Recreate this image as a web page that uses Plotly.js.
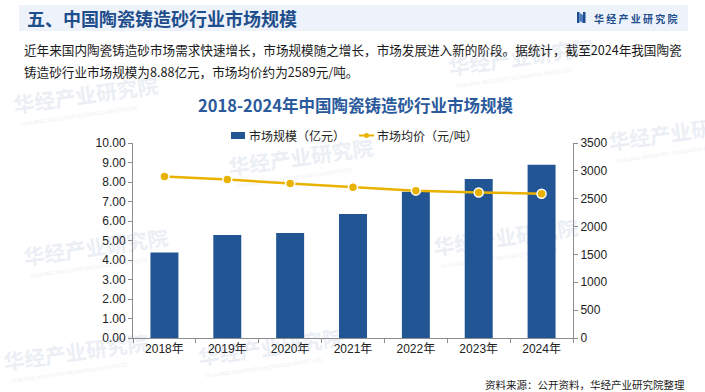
<!DOCTYPE html>
<html>
<head>
<meta charset="utf-8">
<script src="https://cdn.plot.ly/plotly-3.0.1.min.js"></script>
<style>html,body{margin:0;padding:0;background:#fff;}#chart{width:705px;height:392px;}</style>
</head>
<body>
<div id="chart"></div>
<script>
// ---- data ----
const years = ["2018年", "2019年", "2020年", "2021年", "2022年", "2023年", "2024年"];
const marketSize = [4.38, 5.28, 5.38, 6.36, 7.50, 8.16, 8.88];      // 亿元
const avgPrice = [2900, 2845, 2775, 2705, 2645, 2612, 2589];       // 元/吨
const seriesNames = ["市场规模（亿元）", "市场均价（元/吨）"];
const leftTicks = [0, 1, 2, 3, 4, 5, 6, 7, 8, 9, 10];
const rightTicks = [0, 500, 1000, 1500, 2000, 2500, 3000, 3500];

// ---- layout geometry ----
const W = 705, H = 392, L = 133, R = 132, T = 143, B = 54;
const PW = W - L - R, PH = H - T - B;
const px = v => (v - L) / PW;
const py = v => (H - B - v) / PH;

const CJK = '"Noto Sans CJK SC", "Noto Sans", sans-serif';
const NUM = '"Liberation Sans", Arial, "Noto Sans CJK SC", sans-serif';
const BLUE = "#215594", GOLD = "#E9B200";

function wm(x, y, s) {
  const svg = "<svg xmlns='http://www.w3.org/2000/svg' width='240' height='70'>" +
    "<text x='6' y='44' font-family='Noto Sans CJK SC' font-weight='bold' font-size='26' fill='#ebeff5' transform='rotate(-8 6 44)'>华经产业研究院</text>" +
    "<text x='14' y='60' font-family='Liberation Sans' font-size='7' fill='#edf0f5' transform='rotate(-8 14 60)'>HUAJING INDUSTRY RESEARCH INSTITUTE</text></svg>";
  return {source: "data:image/svg+xml;charset=utf-8," + encodeURIComponent(svg),
    xref: "paper", yref: "paper", x: px(x), y: py(y), sizex: (240 * s) / PW, sizey: (70 * s) / PH,
    xanchor: "left", yanchor: "top", sizing: "stretch", layer: "below", opacity: 1};
}

const data = [
  {type: "bar", name: seriesNames[0], x: years, y: marketSize, yaxis: "y",
   marker: {color: BLUE}, showlegend: false},
  {type: "scatter", mode: "lines+markers", name: seriesNames[1], x: years, y: avgPrice, yaxis: "y2",
   line: {color: GOLD, width: 2.5}, showlegend: false,
   marker: {color: GOLD, size: 9, line: {color: "#ffffff", width: 1.5}}}
];

const layout = {
  width: W, height: H,
  margin: {l: L, r: R, t: T, b: B, pad: 0},
  paper_bgcolor: "rgba(0,0,0,0)", plot_bgcolor: "rgba(0,0,0,0)",
  font: {family: NUM, size: 12, color: "#222"},
  bargap: 0.555,
  showlegend: false,
  xaxis: {type: "category", showgrid: false, showline: true, linecolor: "#8c8c8c", linewidth: 1,
    ticks: "outside", tickson: "boundaries", ticklen: 4, tickcolor: "#8c8c8c",
    tickfont: {family: NUM, size: 12, color: "#222"}, fixedrange: true},
  yaxis: {range: [0, 10], tickvals: leftTicks, tickformat: ".2f", showgrid: false, zeroline: false,
    showline: true, linecolor: "#8c8c8c", ticks: "outside", ticklen: 4, tickcolor: "#8c8c8c",
    tickfont: {family: NUM, size: 12, color: "#222"}},
  yaxis2: {range: [0, 3500], tickvals: rightTicks, overlaying: "y", side: "right", showgrid: false,
    zeroline: false, showline: true, linecolor: "#8c8c8c", ticks: "outside", ticklen: 4,
    tickcolor: "#8c8c8c", tickfont: {family: NUM, size: 12, color: "#222"}},
  shapes: [
    {type: "rect", xref: "paper", yref: "paper", x0: px(19), x1: px(688), y0: py(31), y1: py(5),
     fillcolor: "#eef3fb", line: {width: 0}, layer: "below"},
    {type: "rect", xref: "paper", yref: "paper", x0: px(577), x1: px(579.5), y0: py(23), y1: py(12),
     fillcolor: "#1f4e8c", line: {width: 0}},
    {type: "rect", xref: "paper", yref: "paper", x0: px(583), x1: px(585.5), y0: py(23), y1: py(12),
     fillcolor: "#1f4e8c", line: {width: 0}},
    {type: "path", xref: "paper", yref: "paper",
     path: "M " + px(579.5) + " " + py(13) + " L " + px(583) + " " + py(15) + " L " + px(583) + " " + py(23) + " L " + px(579.5) + " " + py(21) + " Z",
     fillcolor: "#4a7bbf", line: {width: 0}},
    // legend keys
    {type: "rect", xref: "paper", yref: "paper", x0: px(231), x1: px(245), y0: py(139), y1: py(132),
     fillcolor: BLUE, line: {width: 0}},
    {type: "line", xref: "paper", yref: "paper", x0: px(359), x1: px(374), y0: py(135.5), y1: py(135.5),
     line: {color: GOLD, width: 2}},
    {type: "circle", xref: "paper", yref: "paper", x0: px(364), x1: px(369), y0: py(138), y1: py(133),
     fillcolor: GOLD, line: {width: 0}}
  ],
  images: [wm(10, 78, 0.8), wm(225, 140, 0.8), wm(445, 40, 0.8), wm(605, 115, 0.8),
           wm(430, 220, 0.8), wm(20, 230, 0.8), wm(195, 330, 0.8), wm(0, 335, 0.8)],
  annotations: [
    {xref: "paper", yref: "paper", x: px(25), y: py(18), xanchor: "left", yanchor: "middle",
     text: "<b>五、中国陶瓷铸造砂行业市场规模</b>", showarrow: false,
     font: {family: CJK, size: 18, color: "#1f4e8c"}},
    {xref: "paper", yref: "paper", x: px(592), y: py(18), xanchor: "left", yanchor: "middle",
     text: "<b>华 经 产 业 研 究 院</b>", showarrow: false,
     font: {family: CJK, size: 10, color: "#1f4e8c"}},
    {xref: "paper", yref: "paper", x: px(22), y: py(50), xanchor: "left", yanchor: "middle",
     text: "近年来国内陶瓷铸造砂市场需求快速增长，市场规模随之增长，市场发展进入新的阶段。据统计，截至2024年我国陶瓷",
     showarrow: false, font: {family: CJK, size: 12.6, color: "#1a1a1a"}},
    {xref: "paper", yref: "paper", x: px(22), y: py(71), xanchor: "left", yanchor: "middle",
     text: "铸造砂行业市场规模为8.88亿元，市场均价约为2589元/吨。",
     showarrow: false, font: {family: CJK, size: 12.6, color: "#1a1a1a"}},
    {xref: "paper", yref: "paper", x: px(355), y: py(105), xanchor: "center", yanchor: "middle",
     text: "<b>2018-2024年中国陶瓷铸造砂行业市场规模</b>", showarrow: false,
     font: {family: CJK, size: 16.5, color: "#2a5a9c"}},
    {xref: "paper", yref: "paper", x: px(247), y: py(135.5), xanchor: "left", yanchor: "middle",
     text: seriesNames[0], showarrow: false, font: {family: CJK, size: 12, color: "#222"}},
    {xref: "paper", yref: "paper", x: px(375), y: py(135.5), xanchor: "left", yanchor: "middle",
     text: seriesNames[1], showarrow: false, font: {family: CJK, size: 12, color: "#222"}},
    {xref: "paper", yref: "paper", x: px(687), y: py(384), xanchor: "right", yanchor: "middle",
     text: "资料来源：公开资料，华经产业研究院整理", showarrow: false,
     font: {family: CJK, size: 10.5, color: "#1a1a1a"}}
  ]
};

Plotly.newPlot("chart", data, layout, {displayModeBar: false, staticPlot: true});
</script>
</body>
</html>
